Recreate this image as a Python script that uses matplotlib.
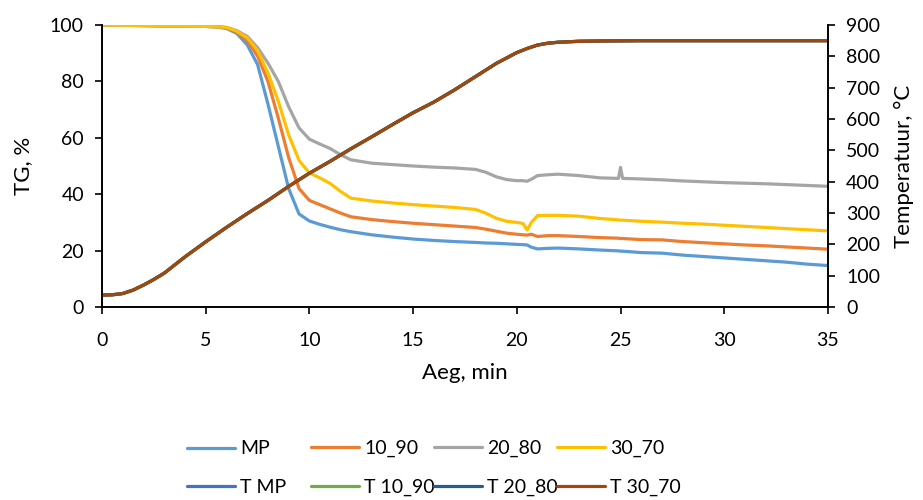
import matplotlib.pyplot as plt

plt.rcParams["font.family"] = ["Lato", "DejaVu Sans"]

# time grid for TG curves, min
time_tg = [0, 2, 4, 5, 5.5, 6, 6.5, 7, 7.5, 8, 8.5, 9, 9.5, 10, 10.5, 11, 11.5, 12,
           13, 14, 15, 16, 17, 18, 18.5, 19, 19.5, 20, 20.3, 20.5, 20.7, 21, 21.5, 22,
           23, 24, 24.9, 25, 25.1, 26, 27, 28, 29, 30, 31, 32, 33, 34, 35]

tg_mp = [100, 99.8, 99.6, 99.5, 99.3, 98.8, 97, 93, 86, 72, 57, 42, 33, 30.5, 29.3,
         28.3, 27.4, 26.7, 25.6, 24.8, 24.1, 23.6, 23.2, 22.9, 22.7, 22.6, 22.4, 22.2,
         22.1, 22.0, 21.2, 20.6, 20.8, 20.9, 20.6, 20.2, 19.9, 19.8, 19.8, 19.3, 19.1,
         18.4, 17.9, 17.4, 16.9, 16.4, 15.9, 15.2, 14.7]

tg_10_90 = [100, 99.8, 99.6, 99.5, 99.4, 99, 97.5, 94.5, 89, 80, 67, 53, 42, 37.8,
            36.3, 34.8, 33.3, 32, 31, 30.3, 29.7, 29.2, 28.7, 28.2, 27.6, 26.9, 26.2,
            25.8, 25.6, 25.5, 25.8, 25.0, 25.3, 25.3, 25.0, 24.6, 24.4, 24.3, 24.3,
            23.9, 23.8, 23.2, 22.8, 22.4, 22.0, 21.7, 21.3, 20.9, 20.5]

tg_20_80 = [100, 99.8, 99.6, 99.5, 99.4, 99.1, 98, 96, 92, 86.5, 80, 71, 63.5, 59.5,
            57.8, 56.2, 54, 52.2, 51, 50.5, 50, 49.6, 49.3, 48.8, 47.8, 46.2, 45.2,
            44.8, 44.8, 44.6, 45.3, 46.6, 46.9, 47.1, 46.6, 45.8, 45.6, 49.5, 45.6,
            45.4, 45.1, 44.7, 44.4, 44.1, 43.9, 43.7, 43.4, 43.1, 42.8]

tg_30_70 = [100, 99.8, 99.6, 99.5, 99.4, 99.2, 97.8, 95.5, 91, 83, 73, 61, 52, 47.5,
            45.8, 43.8, 41, 38.6, 37.6, 36.9, 36.3, 35.8, 35.3, 34.6, 33.3, 31.5, 30.4,
            30.0, 29.6, 27.3, 30.0, 32.4, 32.5, 32.5, 32.2, 31.4, 30.9, 30.8, 30.8,
            30.4, 30.1, 29.7, 29.4, 29.0, 28.6, 28.2, 27.8, 27.4, 27.0]

# furnace temperature, degC (all four runs overlap)
time_t = [0, 0.5, 1, 1.5, 2, 2.5, 3, 4, 5, 6, 7, 8, 9, 10, 11, 12, 13, 14, 15, 16,
          17, 18, 19, 20, 20.5, 21, 21.5, 22, 23, 24, 26, 30, 35]
temp = [38, 39, 43, 54, 70, 88, 108, 160, 208, 254, 298, 340, 385, 427, 465, 505,
        543, 582, 620, 654, 693, 735, 777, 812, 825, 836, 842, 845, 848, 849, 850,
        850, 850]
temp_mp = temp
temp_10_90 = temp
temp_20_80 = temp
temp_30_70 = temp

tg_series = [("MP", tg_mp, "#5B9BD5"), ("10_90", tg_10_90, "#ED7D31"),
             ("20_80", tg_20_80, "#A5A5A5"), ("30_70", tg_30_70, "#FFC000")]
t_series = [("T MP", temp_mp, "#4472C4"), ("T 10_90", temp_10_90, "#70AD47"),
            ("T 20_80", temp_20_80, "#255E91"), ("T 30_70", temp_30_70, "#9E480E")]

fig = plt.figure(figsize=(9.23, 5), dpi=100)
ax = fig.add_axes([0.1105, 0.386, 0.7865, 0.564])
ax2 = ax.twinx()

lw = 2.3
tg_lines = []
for name, vals, col in tg_series:
    ln, = ax.plot(time_tg, vals, color=col, lw=lw, label=name, solid_capstyle="round")
    tg_lines.append(ln)

t_lines = []
for name, vals, col in t_series:
    ln, = ax2.plot(time_t, vals, color=col, lw=lw, label=name, solid_capstyle="round")
    t_lines.append(ln)

ax.set_xlim(0, 35)
ax.set_ylim(0, 100)
ax2.set_ylim(0, 900)
ax.set_xticks(range(0, 36, 5))
ax.set_yticks(range(0, 101, 20))
ax2.set_yticks(range(0, 901, 100))

for a in (ax, ax2):
    a.spines["top"].set_visible(False)
    for s in ("left", "right", "bottom"):
        a.spines[s].set_linewidth(1.2)
        a.spines[s].set_color("black")
    a.tick_params(labelsize=14, width=1.2, length=5, colors="black", pad=8)
ax.tick_params(axis="x", pad=13)

ax.set_xlabel("Aeg, min", fontsize=16, labelpad=10)
ax.set_ylabel("TG, %", fontsize=16, labelpad=12)
ax2.set_ylabel("Temperatuur, °C", fontsize=16, labelpad=10)

# Excel style legend: fixed width cells, one small legend per column
col_x = [187, 311, 434, 557]
for x, a, b in zip(col_x, tg_lines, t_lines):
    leg = fig.legend(handles=[a, b], labels=[a.get_label(), b.get_label()],
                     loc="center left", bbox_to_anchor=(x / 923, 1 - 468 / 500),
                     frameon=False, fontsize=14, handlelength=2.45, handletextpad=0.3,
                     labelspacing=1.1, borderpad=0, borderaxespad=0)

fig.savefig("out.png", dpi=100)
